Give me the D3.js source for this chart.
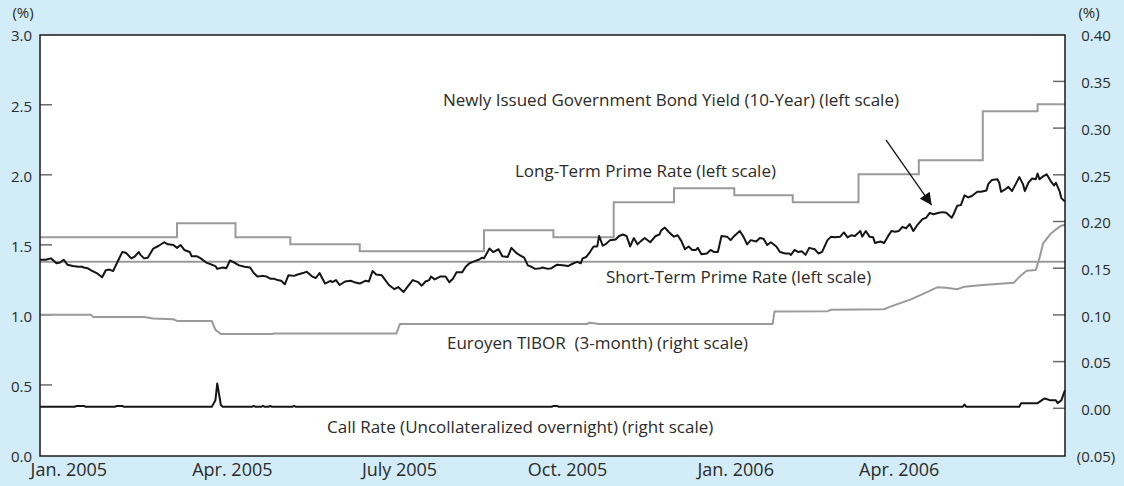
<!DOCTYPE html>
<html>
<head>
<meta charset="utf-8">
<script src="https://cdn.jsdelivr.net/npm/d3@7/dist/d3.min.js"></script>
<style>
  html, body { margin: 0; padding: 0; background: #d3edf8; }
  svg { display: block; font-family: "Open Sans", "Noto Sans", sans-serif; }
</style>
</head>
<body>
<svg id="chart" width="1124" height="486"></svg>
<script>
// ---- Data (days counted from 1 Jan 2005) ----

// Newly issued 10-year JGB yield, % (left scale)
const jgbDay = [0,3,6,9,11,13,15,18,21,23,24,26,28,31,34,36,38,40,43,45,47,50,52,54,55,57,59,62,65,68,70,73,75,77,79,82,83,86,88,91,94,96,97,100,102,104,107,109,112,115,117,119,122,124,126,128,130,132,134,136,139,141,
  144,146,149,151,153,156,159,160,162,164,167,170,172,175,178,180,182,184,187,189,191,194,196,199,201,204,207,209,211,213,214,216,219,222,224,226,228,231,233,235,238,240,242,243,246,248,251,253,256,258,261,263,265,267,269,271,274,275,278,280,283,
  286,289,292,294,296,297,299,301,303,305,306,308,310,312,315,317,319,321,323,325,327,329,331,334,337,339,340,342,344,347,349,351,353,355,357,359,360,362,365,367,369,371,373,376,378,380,383,385,387,389,392,394,396,398,400,403,405,408,410,411,413,415,417,419,421,424,426,
  428,431,433,435,438,440,442,444,446,449,450,452,454,456,457,460,462,464,466,468,470,472,474,476,478,480,483,485,487,489,492,494,496,499,500,502,504,506,508,510,513,515,518,519,521,524,525,526,528,530,532,534,536,538,539,541,543,545,546,547,549,551,553,555,556,558,559,561];
const jgbYield = [1.39,1.39,1.40,1.365,1.37,1.39,1.355,1.345,1.34,1.34,1.335,1.33,1.315,1.295,1.265,1.315,1.32,1.31,1.39,1.445,1.44,1.40,1.415,1.445,1.425,1.40,1.405,1.47,1.49,1.515,1.50,1.495,1.475,1.495,1.46,1.445,1.415,1.415,1.40,1.37,1.355,1.345,1.325,1.335,1.33,1.385,1.365,1.35,1.34,1.335,1.295,1.27,1.275,1.27,1.255,1.255,1.245,1.24,1.215,1.28,1.275,1.285,
  1.295,1.305,1.27,1.26,1.295,1.22,1.24,1.23,1.245,1.21,1.235,1.24,1.23,1.22,1.24,1.235,1.31,1.285,1.28,1.245,1.21,1.18,1.195,1.16,1.195,1.245,1.23,1.205,1.235,1.245,1.27,1.25,1.27,1.27,1.23,1.255,1.30,1.30,1.34,1.365,1.38,1.39,1.405,1.40,1.47,1.445,1.465,1.415,1.41,1.475,1.435,1.42,1.405,1.35,1.34,1.325,1.33,1.335,1.325,1.33,1.355,
  1.35,1.345,1.365,1.375,1.365,1.40,1.41,1.445,1.485,1.485,1.56,1.49,1.505,1.53,1.535,1.56,1.57,1.56,1.485,1.545,1.50,1.525,1.545,1.515,1.56,1.57,1.60,1.62,1.59,1.555,1.565,1.525,1.465,1.485,1.46,1.46,1.475,1.43,1.435,1.46,1.445,1.445,1.56,1.555,1.53,1.56,1.595,1.555,1.50,1.53,1.52,1.545,1.54,1.495,1.515,1.485,1.445,1.435,1.435,1.425,1.46,1.445,1.45,1.425,1.475,1.465,1.435,
  1.445,1.53,1.555,1.55,1.555,1.585,1.55,1.565,1.56,1.595,1.555,1.595,1.555,1.55,1.51,1.52,1.51,1.555,1.595,1.59,1.595,1.625,1.615,1.645,1.595,1.635,1.68,1.69,1.725,1.715,1.725,1.73,1.725,1.69,1.715,1.775,1.78,1.85,1.835,1.845,1.875,1.875,1.885,1.93,1.96,1.965,1.94,1.875,1.89,1.91,1.88,1.93,1.98,1.93,1.88,1.94,1.97,1.965,2.005,1.965,1.985,2.00,1.955,1.92,1.94,1.88,1.83,1.805];

// Long-term prime rate, % (left scale): day each rate took effect
const ltprDay  = [0,75,107,137,175,243,281,314,347,380,412,448,481,516,546];
const ltprRate = [1.55,1.65,1.55,1.50,1.45,1.60,1.55,1.80,1.90,1.85,1.80,2.00,2.10,2.45,2.50];

// Short-term prime rate, % (left scale)
const stprDay  = [0];
const stprRate = [1.375];

// Euroyen TIBOR 3-month, % (right scale)
const tiborDay  = [0,28,29,57,62,73,75,94,96,99,127,128,195,197,299,301,306,401,402,431,433,462,465,476,484,491,496,502,506,516,533,537,540,545,547,549,553,556,559,561];
const tiborRate = [0.0995,0.0995,0.0973,0.0973,0.0955,0.0948,0.093,0.093,0.0835,0.079,0.079,0.0795,0.0795,0.0898,0.0898,0.091,0.0898,0.0898,0.103,0.1035,0.105,0.1055,0.108,0.1155,0.1226,0.129,0.1285,0.127,0.1297,0.1315,0.134,0.142,0.1468,0.1475,0.16,0.176,0.186,0.191,0.195,0.196];

// Uncollateralized overnight call rate, % (right scale)
const callDay  = [0,19,20,24,25,41,42,45,46,94,96,97,99,100,116,117,118,121,122,123,125,126,127,138,139,140,280,281,283,284,505,506,507,536,537,546,549,550,553,556,557,559,561];
const callRate = [0.001,0.001,0.002,0.002,0.001,0.001,0.002,0.002,0.001,0.001,0.008,0.026,0.003,0.001,0.001,0.002,0.001,0.001,0.002,0.001,0.001,0.002,0.001,0.001,0.002,0.001,0.001,0.002,0.002,0.001,0.001,0.0035,0.001,0.001,0.005,0.005,0.009,0.010,0.008,0.008,0.005,0.008,0.019];

// Axis tick values and labels
const leftTicks  = [0, 0.5, 1.0, 1.5, 2.0, 2.5, 3.0];
const rightTicks = [-0.05, 0, 0.05, 0.10, 0.15, 0.20, 0.25, 0.30, 0.35, 0.40];
const monthLabels = [
  {y: 2005, m: 0, text: "Jan. 2005"},
  {y: 2005, m: 3, text: "Apr. 2005"},
  {y: 2005, m: 6, text: "July 2005"},
  {y: 2005, m: 9, text: "Oct. 2005"},
  {y: 2006, m: 0, text: "Jan. 2006"},
  {y: 2006, m: 3, text: "Apr. 2006"}
];

// ---- Layout ----
const plot = {left: 40, right: 1065, top: 35, bottom: 456};
const t0 = Date.UTC(2005, 0, 1);
const dayDate = d => new Date(t0 + d * 864e5);

const x = d3.scaleUtc()
  .domain([new Date(t0), new Date(Date.UTC(2006, 6, 16))])
  .range([plot.left, plot.right]);
const yL = d3.scaleLinear().domain([0, 3]).range([454.5, 34.2]);
const yR = d3.scaleLinear().domain([-0.05, 0.40]).range([454.5, 34.2]);

const svg = d3.select("#chart");
svg.append("rect").attr("width", 1124).attr("height", 486).attr("fill", "#d3edf8");

svg.append("rect")
  .attr("x", plot.left).attr("y", plot.top)
  .attr("width", plot.right - plot.left).attr("height", plot.bottom - plot.top)
  .attr("fill", "#fff");

// ---- Axes ----
const tickColor = "#6b6b6b";
const textColor = "#2b2b2b";

// inward tick marks
const leftInner = svg.append("g").attr("transform", `translate(${plot.left},0)`)
  .call(d3.axisRight(yL).tickValues(leftTicks.slice(1, -1)).tickSize(12).tickFormat(""));
leftInner.select(".domain").remove();
leftInner.selectAll("line").attr("stroke", tickColor).attr("stroke-width", 1.5);

const rightInner = svg.append("g").attr("transform", `translate(${plot.right},0)`)
  .call(d3.axisLeft(yR).tickValues(rightTicks.slice(1, -1)).tickSize(12).tickFormat(""));
rightInner.select(".domain").remove();
rightInner.selectAll("line").attr("stroke", tickColor).attr("stroke-width", 1.5);

// tick labels
const leftLab = svg.append("g").attr("transform", `translate(${plot.left},0)`)
  .call(d3.axisLeft(yL).tickValues(leftTicks).tickSize(0).tickPadding(8).tickFormat(d3.format(".1f")));
leftLab.select(".domain").remove();
leftLab.selectAll("text").attr("font-size", 15).attr("fill", textColor)
  .attr("font-family", "Open Sans, sans-serif").attr("dy", "0.45em");

const fmtRight = v => v < 0 ? `(${d3.format(".2f")(-v)})` : d3.format(".2f")(v);
const rightLab = svg.append("g").attr("transform", `translate(${plot.right},0)`)
  .call(d3.axisRight(yR).tickValues(rightTicks).tickSize(0).tickPadding(31).tickFormat(fmtRight));
rightLab.select(".domain").remove();
rightLab.selectAll("text").attr("font-size", 15).attr("fill", textColor)
  .attr("text-anchor", "middle").attr("font-family", "Open Sans, sans-serif").attr("dy", "0.45em");

// unit labels
svg.append("text").attr("x", 23).attr("y", 18).attr("text-anchor", "middle")
  .attr("font-size", 15).attr("fill", textColor).text("(%)");
svg.append("text").attr("x", 1089).attr("y", 18).attr("text-anchor", "middle")
  .attr("font-size", 15).attr("fill", textColor).text("(%)");

// month labels centred in their month
const monthMid = d => {
  const a = Date.UTC(d.y, d.m, 1), b = Date.UTC(d.y, d.m + 1, 1);
  return new Date((a + b) / 2);
};
const xAxis = svg.append("g").attr("transform", `translate(0,${plot.bottom})`)
  .call(d3.axisBottom(x).tickValues(monthLabels.map(monthMid)).tickSize(0).tickPadding(7.5)
    .tickFormat((d, i) => monthLabels[i].text));
xAxis.select(".domain").remove();
xAxis.selectAll("text").attr("font-size", 18).attr("fill", textColor)
  .attr("font-family", "Open Sans, sans-serif");

// ---- Series ----
const lineL = (days, vals, curve) => d3.line()
  .x((d, i) => x(dayDate(days[i])))
  .y((d, i) => yL(vals[i]))
  .curve(curve || d3.curveLinear)(vals);
const lineR = (days, vals) => d3.line()
  .x((d, i) => x(dayDate(days[i])))
  .y((d, i) => yR(vals[i]))(vals);

const gray = "#9a9a9a";
const black = "#151515";

const g = svg.append("g");

// step series are extended to the end of the period
const endDay = d3.utcDay.count(x.domain()[0], x.domain()[1]);
const stepPath = (days, vals) => lineL(days.concat([endDay]), vals.concat([vals[vals.length - 1]]), d3.curveStepAfter);

g.append("path").attr("d", stepPath(ltprDay, ltprRate))
  .attr("fill", "none").attr("stroke", gray).attr("stroke-width", 2);
g.append("path").attr("d", stepPath(stprDay, stprRate))
  .attr("fill", "none").attr("stroke", gray).attr("stroke-width", 2);
g.append("path").attr("d", lineR(tiborDay, tiborRate))
  .attr("fill", "none").attr("stroke", gray).attr("stroke-width", 2).attr("stroke-linejoin", "round");
g.append("path").attr("d", lineR(callDay, callRate))
  .attr("fill", "none").attr("stroke", black).attr("stroke-width", 2).attr("stroke-linejoin", "round");
g.append("path").attr("d", lineL(jgbDay, jgbYield))
  .attr("fill", "none").attr("stroke", black).attr("stroke-width", 2).attr("stroke-linejoin", "round");

// frame
svg.append("rect")
  .attr("x", plot.left).attr("y", plot.top)
  .attr("width", plot.right - plot.left).attr("height", plot.bottom - plot.top)
  .attr("fill", "none").attr("stroke", "#1a1a1a").attr("stroke-width", 1.5);

// ---- Annotations ----
const notes = [
  {text: "Newly Issued Government Bond Yield (10-Year) (left scale)", x: 443, y: 106},
  {text: "Long-Term Prime Rate (left scale)", x: 515, y: 177},
  {text: "Short-Term Prime Rate (left scale)", x: 606, y: 283},
  {text: "Euroyen TIBOR\u00a0\u00a0(3-month) (right scale)", x: 447, y: 349},
  {text: "Call Rate (Uncollateralized overnight) (right scale)", x: 327, y: 433}
];
svg.append("g").selectAll("text").data(notes).join("text")
  .attr("x", d => d.x).attr("y", d => d.y)
  .attr("font-size", 17).attr("fill", textColor)
  .text(d => d.text);

// arrow pointing at the bond yield line
const arrowFrom = {day: 463, value: 2.245};
const arrowTo   = {day: 488, value: 1.78};
svg.append("defs").append("marker")
  .attr("id", "arrowhead").attr("viewBox", "0 0 10 10")
  .attr("refX", 10).attr("refY", 5)
  .attr("markerWidth", 17).attr("markerHeight", 12)
  .attr("markerUnits", "userSpaceOnUse").attr("orient", "auto")
  .append("path").attr("d", "M0,0 L10,5 L0,10 Z").attr("fill", "#111");
svg.append("line")
  .attr("x1", x(dayDate(arrowFrom.day))).attr("y1", yL(arrowFrom.value))
  .attr("x2", x(dayDate(arrowTo.day))).attr("y2", yL(arrowTo.value))
  .attr("stroke", "#111").attr("stroke-width", 1.3)
  .attr("marker-end", "url(#arrowhead)");
</script>
</body>
</html>
